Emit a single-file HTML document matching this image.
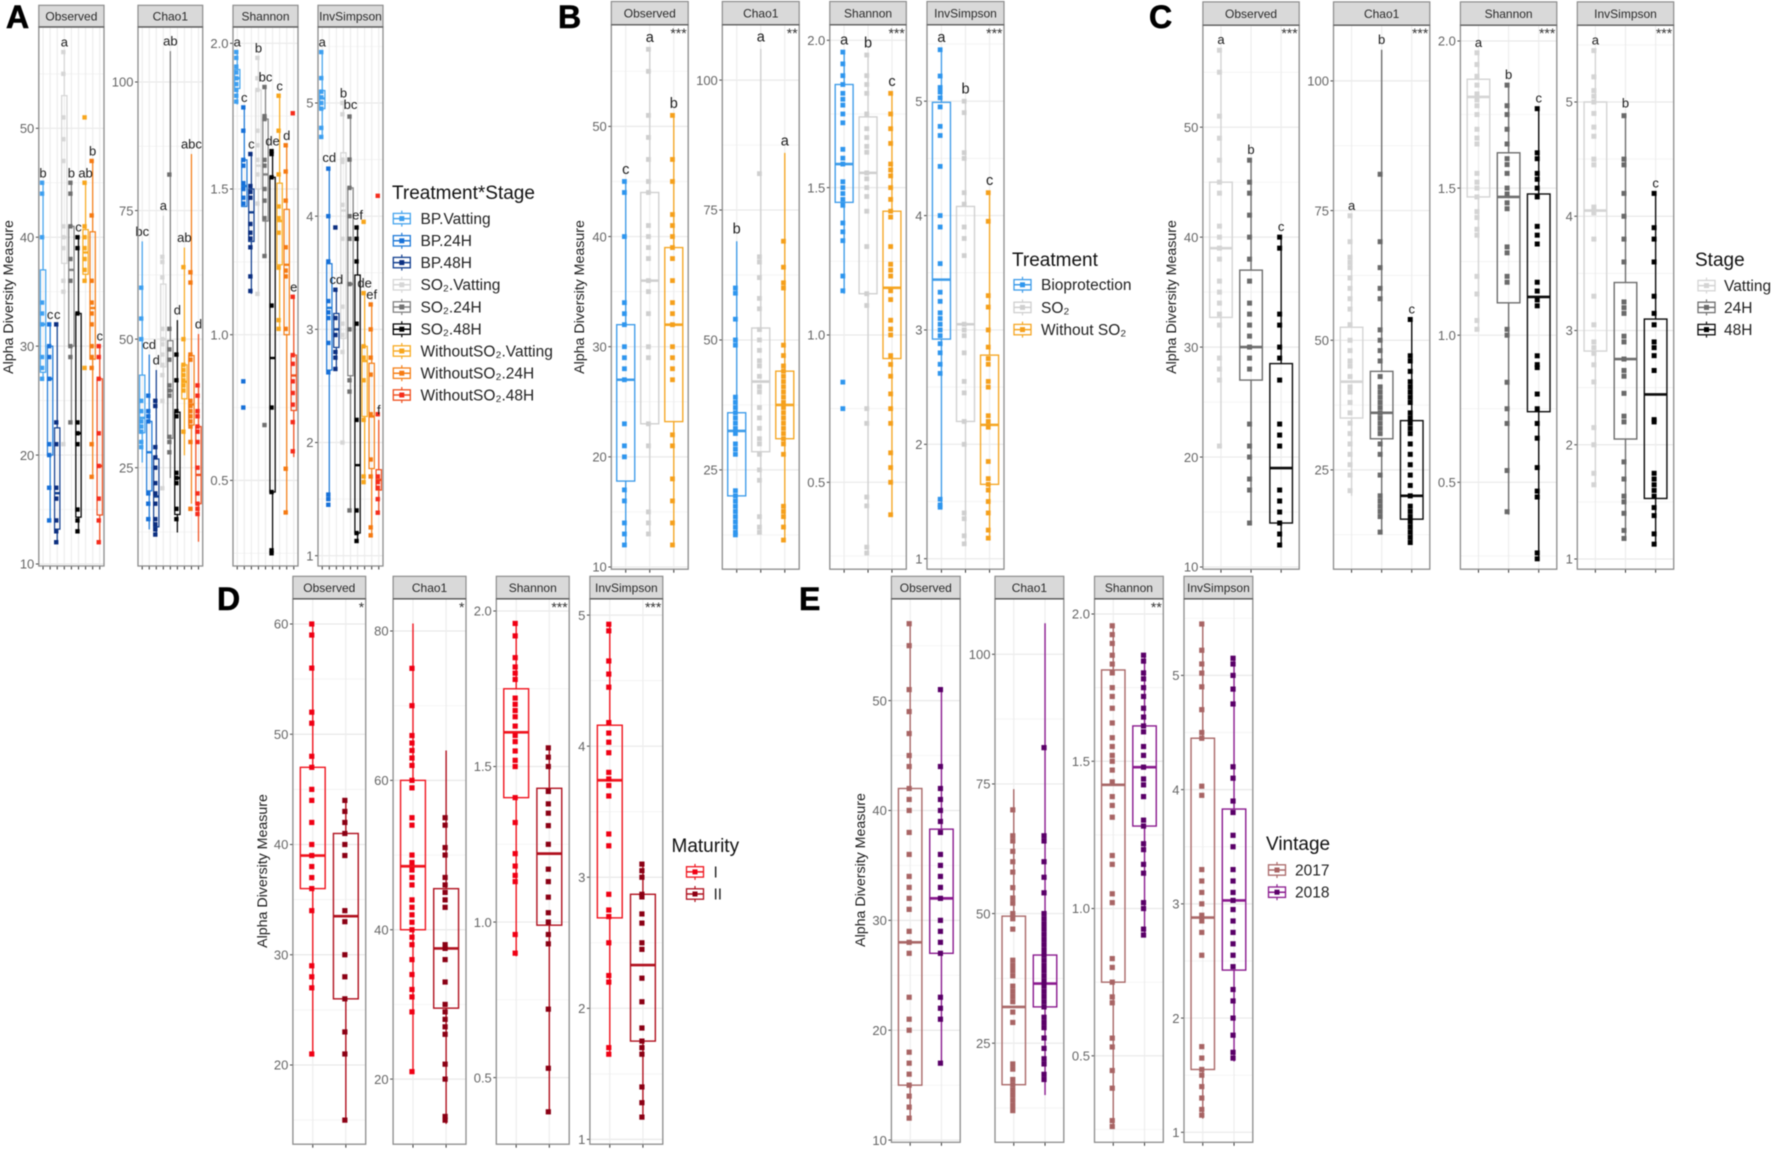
<!DOCTYPE html>
<html lang="en">
<head>
<meta charset="utf-8">
<title>Alpha diversity boxplots</title>
<style>
html,body{margin:0;padding:0;background:#fff;}
svg{display:block;filter:blur(0.55px);font-family:"Liberation Sans","DejaVu Sans",sans-serif;}
.letter{font-weight:bold;font-size:32px;fill:#000;stroke:#000;stroke-width:0.6px;}
.ytitle{font-size:14.2px;fill:#1a1a1a;text-anchor:middle;}
.ltitle{font-size:19px;fill:#111;}
.llabel{font-size:15.5px;fill:#222;}
</style>
</head>
<body>
<svg id="chart" xmlns="http://www.w3.org/2000/svg" width="1772" height="1150" viewBox="0 0 1772 1150">
<rect x="0" y="0" width="1772" height="1150" fill="#fff"/>
<g id="marks"></g>

<text class="letter" x="6" y="28">A</text>
<text class="letter" x="558" y="28">B</text>
<text class="letter" x="1149" y="28">C</text>
<text class="letter" x="217" y="610">D</text>
<text class="letter" x="799" y="610">E</text>

<text class="ytitle" transform="translate(13,297) rotate(-90)">Alpha Diversity Measure</text>
<text class="ytitle" transform="translate(584,297) rotate(-90)">Alpha Diversity Measure</text>
<text class="ytitle" transform="translate(1176,297) rotate(-90)">Alpha Diversity Measure</text>
<text class="ytitle" transform="translate(267,871) rotate(-90)">Alpha Diversity Measure</text>
<text class="ytitle" transform="translate(865,870) rotate(-90)">Alpha Diversity Measure</text>

<g>
<text class="ltitle" x="392" y="199">Treatment*Stage</text>
<text class="llabel" x="420.5" y="224">BP.Vatting</text>
<text class="llabel" x="420.5" y="246">BP.24H</text>
<text class="llabel" x="420.5" y="268">BP.48H</text>
<text class="llabel" x="420.5" y="290">SO₂.Vatting</text>
<text class="llabel" x="420.5" y="312.5">SO₂.24H</text>
<text class="llabel" x="420.5" y="334.5">SO₂.48H</text>
<text class="llabel" x="420.5" y="356.5">WithoutSO₂.Vatting</text>
<text class="llabel" x="420.5" y="378.5">WithoutSO₂.24H</text>
<text class="llabel" x="420.5" y="400.5">WithoutSO₂.48H</text>
</g>
<g>
<text class="ltitle" x="1012" y="266">Treatment</text>
<text class="llabel" x="1041" y="290">Bioprotection</text>
<text class="llabel" x="1041" y="313">SO₂</text>
<text class="llabel" x="1041" y="335">Without SO₂</text>
</g>
<g>
<text class="ltitle" x="1695" y="266">Stage</text>
<text class="llabel" x="1724" y="291">Vatting</text>
<text class="llabel" x="1724" y="313">24H</text>
<text class="llabel" x="1724" y="335">48H</text>
</g>
<g>
<text class="ltitle" x="671.5" y="852">Maturity</text>
<text class="llabel" x="713.5" y="877.5">I</text>
<text class="llabel" x="713.5" y="899.5">II</text>
</g>
<g>
<text class="ltitle" x="1266" y="850">Vintage</text>
<text class="llabel" x="1295" y="875.5">2017</text>
<text class="llabel" x="1295" y="897.5">2018</text>
</g>
</svg>

<script>
/* ---------- shared labels and ticks ---------- */
const metricNames = ["Observed","Chao1","Shannon","InvSimpson"];
const observedTicks = [10,20,30,40,50];
const observedTickLabels = ["10","20","30","40","50"];
const chaoTicks = [25,50,75,100];
const chaoTickLabels = ["25","50","75","100"];
const shannonTicks = [0.5,1,1.5,2];
const shannonTickLabels = ["0.5","1.0","1.5","2.0"];
const invTicks = [1,2,3,4,5];
const invTickLabels = ["1","2","3","4","5"];
const dObservedTicks = [20,30,40,50,60];
const dObservedTickLabels = ["20","30","40","50","60"];
const dChaoTicks = [20,40,60,80];
const dChaoTickLabels = ["20","40","60","80"];

/* ---------- A: Treatment*Stage ---------- */
const aGroups = ["BP.Vatting","BP.24H","BP.48H","SO2.Vatting","SO2.24H","SO2.48H","WithoutSO2.Vatting","WithoutSO2.24H","WithoutSO2.48H"];
/* box rows: q1, median, q3, whisker low, whisker high */
const aObservedPoints = [[45,44,40,34,33,32,29,28,27],[32,30,29,27,21,20,17,14],[32,23,21,17,16,14,13,12],[57,55,51,49,47,41,40,39,36,35,21],[45,44,41,38,36,30,29,23],[40,39,33,23,22,21,15,14,13],[51,45,41,40,39,38,37,36,28],[47,42,36,34,33,32,30,29,28,21,18],[30,29,27,22,19,16,14,12]];
const aObservedBoxes = [[27.6,32,37,27,45],[20,27,30,14,32],[13.2,16.5,22.5,12,32],[37.6,40,53,21,57],[30,37,41,23,45],[14.3,22,33,13,40],[36.6,38.6,40.7,36,45],[28.8,33.5,40.5,18,47],[14.5,19,27,12,30]];
const aObservedLetters = ["b","c","c","a","b","c","ab","b","c"];
const aChaoPoints = [[60,54,50,38,36,34,33,32,30,29],[39,36,35,34,20,18,15],[38,37,29,27,25,22,20,18,15,14,13,12],[66,65,62,52,50,49,47,45,43,38,21],[82,52,48,46,41,40,39,31,30,28],[47,42,36,35,24,23,22,17,15],[64,50,45,44,43,42,41,40,32],[63,61,47,46,38,37,36,35,34,33,30,17],[41,39,36,35,33,32,30,25,20,18,17,16]];
const aChaoBoxes = [[31.8,34.7,43,26,69],[20.5,28,34,13,47],[13.5,19.4,26.7,12,44],[44.6,50,60.7,21,74],[30.7,40,49.7,23,106],[15.9,23,35.8,12.4,53.7],[38.4,41.7,45,27.4,67.8],[33.3,37.3,46.8,18,86],[18,23.6,33,10.6,51]];
const aChaoLetters = ["bc","cd","d","a","ab","d","ab","abc","d"];
const aShannonPoints = [[1.97,1.95,1.92,1.9,1.88,1.86,1.84,1.82,1.8],[1.78,1.7,1.6,1.58,1.52,1.5,1.47,1.45,0.84,0.75],[1.62,1.51,1.49,1.47,1.38,1.35,1.33,1.3,1.2,1.15],[1.95,1.88,1.84,1.7,1.65,1.6,1.55,1.45,1.14],[1.85,1.75,1.74,1.6,1.58,1.5,1.46,1.4,1.27,0.69],[1.63,1.62,1.54,1.1,0.75,0.46,0.26,0.25],[1.82,1.7,1.55,1.44,1.4,1.35,1.23,1.05,1.02],[1.65,1.56,1.46,1.3,1.22,1.2,1.02,0.54,0.39],[1.76,1.13,0.93,0.9,0.84,0.8,0.76,0.7,0.6]];
const aShannonBoxes = [[1.845,1.88,1.91,1.79,1.97],[1.44,1.51,1.6,1.44,1.78],[1.32,1.42,1.5,1.14,1.62],[1.5,1.58,1.84,1.14,1.95],[1.39,1.55,1.74,1.27,1.85],[0.46,0.92,1.54,0.25,1.63],[1.24,1.39,1.52,1.02,1.82],[1,1.24,1.43,0.39,1.65],[0.74,0.86,0.93,0.58,1.13]];
const aShannonLetters = ["a","c","c","b","bc","de","c","d","e"];
const aInvPoints = [[5.45,5.22,5.1,5.05,5,4.95,4.78,4.7],[4.42,4,3.6,3.25,3.15,3.1,2.88,2.62,1.54,1.5,1.45],[3.9,3.35,3.1,2.95,2.8,2.75,2.65],[5,4.9,4.5,4.48,4.1,3.8,3.2,3.05,2.95,2.8,2],[4.88,4.5,4.25,4,3.8,3.4,3,2.55,2.45,1.4],[3.9,3.8,3.6,3.05,2.2,1.4,1.2,1.13],[3.95,3.32,2.85,2.75,2.55,2.2,1.7,1.65],[3.22,3,2.75,2.6,2.25,1.85,1.7,1.25,1.18],[4.18,2.25,1.7,1.65,1.6,1.5,1.38]];
const aInvBoxes = [[4.95,5.04,5.11,4.7,5.45],[2.64,3.19,3.58,1.52,4.43],[2.84,3,3.14,2.64,3.35],[2.92,4.05,4.56,2,5],[2.59,3.4,4.25,1.39,4.9],[1.2,1.8,3.48,1.13,3.92],[2.23,2.72,2.85,1.67,3.32],[1.77,2.23,2.7,1.16,3.22],[1.58,1.67,1.76,1.39,2.2]];
const aInvLetters = ["a","cd","cd","b","bc","ef","de","ef","f"];
const aLineColors = ["#45a4ee","#1f7ad8","#123f8f","#d6d6d6","#808080","#000000","#f8ab22","#f57f17","#f0501f"];
const aPointColors = ["#3d9ff0","#1670d8","#0c2f80","#d6d6d6","#707070","#000000","#f8a61c","#f57a12","#f52c1c"];

/* ---------- B: Treatment ---------- */
const bObservedPoints = [[45,44,40,34,33,32,30,29,28,27,23,21,20,17,16,14,13,12],[57,55,51,49,47,45,44,41,40,39,38,36,35,33,30,29,23,21,15,14,13],[51,47,45,42,41,40,39,38,36,34,33,32,30,29,28,27,22,21,18,16,14,12]];
const bObservedBoxes = [[17.8,27,32,12,45],[23,36,44,13,57],[23.2,32,39,12,51]];
const bObservedLetters = ["c","a","b"];
const bChaoPoints = [[60,59,54,50,49,39,38,37,36,35,34,33,32,30,29,28,21,20,19,18,17,16,15,14,13,12.5],[82,66,65,62,58,56,52,50,48,46,45,43,41,40,37,35,33,31,30,28,25,23,16,14,13],[69,64,61,60,49,47,45,44,43,42,41,40,39,38,37,36,35,34,33,32,31,30,28,18,17,16,14,11.5]];
const bChaoBoxes = [[20,32.5,36,12.5,69],[28.5,42,52.3,13,106],[31,37.5,44,11.5,86]];
const bChaoLetters = ["b","a","a"];
const bShannonPoints = [[1.96,1.92,1.88,1.85,1.82,1.8,1.78,1.75,1.72,1.63,1.6,1.58,1.52,1.5,1.48,1.46,1.44,1.38,1.35,1.32,1.2,1.15,0.84,0.75],[1.95,1.88,1.85,1.82,1.75,1.7,1.67,1.64,1.62,1.55,1.53,1.5,1.47,1.42,1.3,1.14,1.1,0.75,0.7,0.45,0.42,0.28,0.26],[1.82,1.75,1.7,1.65,1.58,1.56,1.54,1.5,1.46,1.42,1.4,1.3,1.24,1.22,1.2,1.15,1.12,1.05,1.02,1,0.93,0.9,0.86,0.8,0.75,0.7,0.6,0.55,0.5,0.39]];
const bShannonBoxes = [[1.45,1.58,1.85,1.14,1.96],[1.14,1.55,1.74,0.26,1.95],[0.92,1.16,1.42,0.39,1.82]];
const bShannonLetters = ["a","b","c"];
const bInvPoints = [[5.45,5.22,5.12,5.08,5.03,4.95,4.78,4.7,4.43,4,3.9,3.58,3.33,3.25,3.15,3.1,3.05,3,2.95,2.88,2.8,2.7,2.62,1.52,1.47,1.45],[5,4.9,4.55,4.5,4.2,4.1,3.9,3.8,3.65,3.05,3,2.95,2.8,2.55,2.45,2.2,2,1.4,1.35,1.2,1.13],[4.2,3.95,3.3,3.2,3,2.85,2.75,2.7,2.55,2.5,2.25,2.2,2.15,1.85,1.7,1.65,1.6,1.5,1.4,1.25,1.18]];
const bInvBoxes = [[2.92,3.44,4.99,1.43,5.45],[2.2,3.05,4.08,1.12,5],[1.65,2.17,2.78,1.16,4.2]];
const bInvLetters = ["a","b","c"];
const bStars = ["***","**","***","***"];
const bLineColors = ["#3d9be9","#cfcfcf","#f5a623"];
const bPointColors = ["#2f96ee","#cfcfcf","#f5a01c"];

/* ---------- C: Stage ---------- */
const cObservedPoints = [[57,55,51,49,47,45,44,41,40,39,38,36,35,34,33,32,29,28,27,21],[47,45,44,42,40,38,36,34,33,32,31,30,29,28,23,21,20,18,17,14],[40,39,33,32,30,29,27,23,22,21,17,16,15,14,13,12]];
const cObservedBoxes = [[32.7,39,45,21,57],[27,30,37,14,47],[14,19,28.5,12,40]];
const cChaoPoints = [[74,69,66,65,64,62,60,58,56,53,50,48,46,45,43,41,40,38,36,34,32,30,28,26,24,21],[82,69,64,60,58,52,50,48,46,43,41,40,39,38,37,36,35,34,33,32,30,28,24,20,19,18,17,16,13],[54,47,46,44,42,41,40,39,38,36,35,34,33,32,30,28,26,24,22,20,18,17,16,15,14,13,12,11]];
const cChaoBoxes = [[35,42,52.5,20,74],[31,36,44,13,106],[15.5,20,34.5,11,54]];
const cShannonPoints = [[1.96,1.92,1.88,1.85,1.82,1.8,1.78,1.75,1.7,1.67,1.65,1.55,1.52,1.5,1.47,1.42,1.4,1.36,1.34,1.2,1.14,1.05,1.02],[1.85,1.78,1.75,1.7,1.65,1.6,1.58,1.55,1.5,1.48,1.45,1.43,1.3,1.28,1.2,1.18,1.02,1,0.84,0.75,0.7,0.54,0.4],[1.77,1.62,1.6,1.55,1.53,1.5,1.47,1.37,1.34,1.31,1.18,1.15,1.12,1.1,0.93,0.9,0.89,0.8,0.75,0.7,0.65,0.55,0.47,0.45,0.26,0.24]];
const cShannonBoxes = [[1.47,1.81,1.87,1.02,1.96],[1.11,1.47,1.62,0.39,1.85],[0.74,1.13,1.48,0.24,1.77]];
const cInvPoints = [[5.45,5.22,5.1,5.05,5,4.9,4.78,4.7,4.5,4.45,4.08,4.03,3.8,3.3,3.05,2.9,2.85,2.8,2.7,2.55,2.15,2,1.75,1.65],[4.88,4.5,4.45,4.2,4,3.8,3.6,3.25,3.2,3.15,2.95,2.9,2.75,2.65,2.6,2.45,2.25,2.2,1.85,1.7,1.55,1.5,1.4,1.25,1.18],[4.2,3.9,3.8,3.6,3.3,3.15,3.05,2.9,2.85,2.78,2.65,2.22,2.2,1.75,1.7,1.65,1.6,1.55,1.45,1.38,1.22,1.13]];
const cInvBoxes = [[2.82,4.05,5,1.63,5.45],[2.05,2.75,3.42,1.16,4.9],[1.53,2.44,3.1,1.12,4.2]];
const cLetters = ["a","b","c"];
const cStars = ["***","***","***","***"];
const cLineColors = ["#d4d4d4","#6e6e6e","#0a0a0a"];
const cPointColors = ["#d4d4d4","#6a6a6a","#000000"];

/* ---------- D: Maturity ---------- */
const dObservedPoints = [[60,59,56,52,51,48,47,45,44,42,40,39,38,37,36,34,29,28,27,21],[44,43,42,41,40,39,34,33,30,28,26,23,21,15]];
const dObservedBoxes = [[36,39,47,21,60],[26,33.5,41,15,44]];
const dChaoPoints = [[75,70,66,65,64,63,62,60,59,55,54,50,49,48,47,46,44,43,42,41,40,39,38,36,34,32,31,29,21],[55,54,51,50,47,46,45,44,43,38,37.5,36,33,30,29,28,27,26,22,20,15,14.5]];
const dChaoBoxes = [[40,48.5,60,21,81],[29.5,37.5,45.5,14,64]];
const dShannonPoints = [[1.96,1.92,1.85,1.82,1.8,1.78,1.72,1.7,1.68,1.66,1.63,1.6,1.58,1.55,1.52,1.5,1.4,1.32,1.22,1.18,1.15,1.13,0.96,0.9],[1.56,1.53,1.5,1.42,1.38,1.35,1.31,1.25,1.17,1.13,1.08,1.03,1,0.96,0.93,0.72,0.53,0.39]];
const dShannonBoxes = [[1.4,1.61,1.75,0.89,1.96],[0.99,1.22,1.43,0.39,1.56]];
const dInvPoints = [[4.93,4.88,4.65,4.55,4.45,4.18,4.1,4.03,3.95,3.8,3.75,3.7,3.62,3.33,3.24,2.87,2.75,2.7,2.5,2.25,2.2,1.7,1.65],[3.1,3.05,3,2.87,2.85,2.72,2.65,2.5,2.45,2.23,2.05,1.85,1.75,1.7,1.65,1.4,1.28,1.17]];
const dInvBoxes = [[2.69,3.74,4.16,1.65,4.93],[1.75,2.33,2.87,1.17,3.1]];
const dStars = ["*","*","***","***"];
const dLineColors = ["#f0141e","#b0101e"];
const dPointColors = ["#f00014","#8b0014"];

/* ---------- E: Vintage ---------- */
const eObservedPoints = [[57,55,51,49,47,45,44,42,41,40,38,36,34,33,32,31,29,28,27,23,21,20,18,17,16,15,14,13,12],[51,44,42,41,40,39,38,36,35,34,33,32,30,29,28,27,23,22,21,17]];
const eObservedBoxes = [[15,28,42,12,57],[27,32,38.3,17,51]];
const eChaoPoints = [[70,65,64,62,60,58,55,53,52,50,49,47,41,40,39,38,36,35,34,33,31,29,21,20,18,17,16,15,14,13,12],[82,65,64,60,57,54,50,49,48,47,46,45,44,43,42,41,40,39,38,37,36,35,34,33,32,30,29,28,26,24,22,21,19,18]];
const eChaoBoxes = [[17,32,49.5,12,74],[32,36.5,42,15,106]];
const eShannonPoints = [[1.96,1.93,1.9,1.86,1.83,1.8,1.75,1.72,1.68,1.63,1.58,1.55,1.52,1.5,1.47,1.43,1.38,1.35,1.31,1.18,1.15,1.05,1.02,0.83,0.8,0.75,0.7,0.68,0.56,0.53,0.45,0.39,0.28,0.26],[1.86,1.84,1.8,1.78,1.75,1.72,1.68,1.65,1.62,1.6,1.55,1.52,1.48,1.44,1.42,1.38,1.3,1.28,1.22,1.2,1.15,1.12,1.02,1,0.93,0.91]];
const eShannonBoxes = [[0.75,1.42,1.81,0.26,1.96],[1.28,1.48,1.62,0.91,1.86]];
const eInvPoints = [[5.45,5.22,5.1,5.02,4.9,4.7,4.5,4.45,4.03,3.95,3.3,3.2,3.1,3,2.9,2.85,2.75,2.55,1.75,1.65,1.55,1.5,1.4,1.3,1.2,1.15],[5.15,5.1,5,4.88,4.75,4.2,4.1,3.9,3.8,3.6,3.5,3.3,3.2,3.1,3.03,2.95,2.85,2.75,2.65,2.55,2.45,2.25,2.15,2,1.85,1.7,1.65]];
const eInvBoxes = [[1.55,2.88,4.45,1.12,5.45],[2.42,3.03,3.83,1.62,5.15]];
const eStars = ["","","**",""];
const eLineColors = ["#a96868","#8a1a8e"];
const ePointColors = ["#a86464","#5a0068"];

/* ---------- layout (pixels only, no data) ---------- */
const SVGNS = "http://www.w3.org/2000/svg";
const root = document.getElementById("marks");

function mk(tag, attrs, parent) {
  const el = document.createElementNS(SVGNS, tag);
  for (const k in attrs) el.setAttribute(k, attrs[k]);
  parent.appendChild(el);
  return el;
}
function yAxis(p) {
  const k = (p.py2 - p.py1) / (p.v2 - p.v1);
  return function (v) { return p.py1 + (v - p.v1) * k; };
}
function xAxis(p, n) {
  const step = (p.x1 - p.x0) / (n - 1 + 1.2);
  return function (i) { return p.x0 + (i + 0.6) * step; };
}

function drawPanel(fig, p, m) {
  const g = mk("g", {}, root);
  
  
  const y = yAxis(p);
  const n = m.points.length;
  const x = xAxis(p, n);
  const step = (p.x1 - p.x0) / (n + 0.2);
  const boxW = step * 0.75;

  const strip = mk("rect", {x:p.x0, y:fig.stripTop, width:p.x1-p.x0, height:fig.stripBottom-fig.stripTop, fill:"#d9d9d9", stroke:"#8c8c8c", "stroke-width":1.2}, g);
  
  
  const stripText = mk("text", {x:(p.x0+p.x1)/2, y:(fig.stripTop+fig.stripBottom)/2+4.2, "text-anchor":"middle", "font-size":12, fill:"#2a2a2a"}, g);
  stripText.textContent = m.title;
  
  

  const bg = mk("rect", {x:p.x0, y:fig.stripBottom, width:p.x1-p.x0, height:fig.bottom-fig.stripBottom, fill:"#fff"}, g);
  
  

  /* minor grid */
  const tickStep = m.ticks[1] - m.ticks[0];
  for (let v = m.ticks[0] - tickStep / 2; v <= m.ticks[m.ticks.length - 1] + tickStep; v += tickStep) {
    const yy = y(v);
    if (yy > fig.stripBottom && yy < fig.bottom) {
      const minor = mk("line", {x1:p.x0, x2:p.x1, y1:yy, y2:yy, stroke:"#f0f0f0", "stroke-width":0.7}, g);
      
      
    }
  }
  /* major grid and y axis */
  m.ticks.forEach(function (t, i) {
    const yy = y(t);
    const major = mk("line", {x1:p.x0, x2:p.x1, y1:yy, y2:yy, stroke:"#e9e9e9", "stroke-width":1.2}, g);
    
    
    const tick = mk("line", {x1:p.x0-3, x2:p.x0, y1:yy, y2:yy, stroke:"#444", "stroke-width":1}, g);
    
    
    const lab = mk("text", {x:p.x0-4.5, y:yy+4.7, "text-anchor":"end", "font-size":13, fill:"#666"}, g);
    lab.textContent = m.tickLabels[i];
    
    
  });
  for (let i = 0; i < n; i++) {
    const xx = x(i);
    const vg = mk("line", {x1:xx, x2:xx, y1:fig.stripBottom, y2:fig.bottom, stroke:"#ececec", "stroke-width":1.1}, g);
    
    
    const xt = mk("line", {x1:xx, x2:xx, y1:fig.bottom, y2:fig.bottom+3.5, stroke:"#333", "stroke-width":1}, g);
    
    
  }
  /* boxes */
  for (let i = 0; i < n; i++) {
    const col = fig.lineColors[i];
    const b = m.boxes[i];
    const xx = x(i);
    const upper = mk("line", {x1:xx, x2:xx, y1:y(b[4]), y2:y(b[2]), stroke:col, "stroke-width":fig.lw}, g);
    
    
    const lower = mk("line", {x1:xx, x2:xx, y1:y(b[0]), y2:y(b[3]), stroke:col, "stroke-width":fig.lw}, g);
    
    
    const box = mk("rect", {x:xx-boxW/2, y:y(b[2]), width:boxW, height:y(b[0])-y(b[2]), fill:"none", stroke:col, "stroke-width":fig.lw}, g);
    
    
    const med = mk("line", {x1:xx-boxW/2, x2:xx+boxW/2, y1:y(b[1]), y2:y(b[1]), stroke:col, "stroke-width":fig.lw*1.9}, g);
    
    
  }
  /* points */
  for (let i = 0; i < n; i++) {
    const xx = x(i) + fig.pointShift;
    m.points[i].forEach(function (v) {
      const s = fig.pointSize;
      const pt = mk("rect", {x:xx-s/2, y:y(v)-s/2, width:s, height:s, fill:fig.pointColors[i]}, g);
      
      
    });
  }
  /* letters */
  if (m.letters) {
    m.letters.forEach(function (l, i) {
      const t = mk("text", {x:x(i), y:y(m.boxes[i][4])-fig.letterGap, "text-anchor":"middle", "font-size":fig.letterSize, fill:"#1a1a1a"}, g);
      t.textContent = l;
      
      
    });
  }
  if (m.stars) {
    const st = mk("text", {x:p.x1-1.5, y:fig.stripBottom+13, "text-anchor":"end", "font-size":14, fill:"#333"}, g);
    st.textContent = m.stars;
    
    
  }
  const border = mk("rect", {x:p.x0, y:fig.stripBottom, width:p.x1-p.x0, height:fig.bottom-fig.stripBottom, fill:"none", stroke:"#8c8c8c", "stroke-width":1.3}, g);
  
  
  const stripEdge = mk("line", {x1:p.x0, x2:p.x1, y1:fig.stripBottom, y2:fig.stripBottom, stroke:"#555", "stroke-width":1.2}, g);
  
  
}

function drawKey(cx, cy, col, ptCol) {
  const k = mk("g", {}, root);
  
  
  const stem = mk("line", {x1:cx, x2:cx, y1:cy-8, y2:cy+8, stroke:col, "stroke-width":1.2}, k);
  
  
  const r = mk("rect", {x:cx-8.5, y:cy-5.2, width:17, height:10.4, fill:"#fff", stroke:col, "stroke-width":1.3}, k);
  
  
  const ml = mk("line", {x1:cx-8.5, x2:cx+8.5, y1:cy, y2:cy, stroke:col, "stroke-width":1.5}, k);
  
  
  const d = mk("rect", {x:cx-2.5, y:cy-2.5, width:5, height:5, fill:ptCol}, k);
  
  
}

const stdTicks = [observedTicks, chaoTicks, shannonTicks, invTicks];
const stdLabels = [observedTickLabels, chaoTickLabels, shannonTickLabels, invTickLabels];
const dTicks = [dObservedTicks, dChaoTicks, shannonTicks, invTicks];
const dLabels = [dObservedTickLabels, dChaoTickLabels, shannonTickLabels, invTickLabels];

const figures = [
  {id:"a", stripTop:5.3, stripBottom:27, bottom:566, lw:1.25, pointSize:4.4, pointShift:-1, letterSize:13, letterGap:5.5,
   lineColors:aLineColors, pointColors:aPointColors, groupNames:aGroups, ticks:stdTicks, labels:stdLabels,
   points:[aObservedPoints,aChaoPoints,aShannonPoints,aInvPoints], boxes:[aObservedBoxes,aChaoBoxes,aShannonBoxes,aInvBoxes],
   letters:[aObservedLetters,aChaoLetters,aShannonLetters,aInvLetters], stars:null,
   panels:[{x0:38.8,x1:104,v1:10,py1:564,v2:50,py2:128.3},{x0:138,x1:202.7,v1:25,py1:467.7,v2:100,py2:82},{x0:233,x1:298,v1:0.5,py1:480.4,v2:2,py2:43.3},{x0:318,x1:383,v1:1,py1:555.7,v2:5,py2:103}],
   keyX:401.8, keyY:[218.6,240.8,262.6,284.8,307,329.2,351,373.2,395]},
  {id:"b", stripTop:1.5, stripBottom:24.8, bottom:569.2, lw:1.35, pointSize:4.8, pointShift:-1.3, letterSize:14.5, letterGap:7.5,
   lineColors:bLineColors, pointColors:bPointColors, groupNames:["bioprotection","so2","without-so2"], ticks:stdTicks, labels:stdLabels,
   points:[bObservedPoints,bChaoPoints,bShannonPoints,bInvPoints], boxes:[bObservedBoxes,bChaoBoxes,bShannonBoxes,bInvBoxes],
   letters:[bObservedLetters,bChaoLetters,bShannonLetters,bInvLetters], stars:bStars,
   panels:[{x0:611.3,x1:688.2,v1:10,py1:567,v2:50,py2:126.4},{x0:722.3,x1:799.2,v1:25,py1:469.9,v2:100,py2:80.1},{x0:829.8,x1:906.3,v1:0.5,py1:482.3,v2:2,py2:40.3},{x0:927,x1:1004,v1:1,py1:558.7,v2:5,py2:101.2}],
   keyX:1022.5, keyY:[284.8,307.4,329.6]},
  {id:"c", stripTop:1.9, stripBottom:25.2, bottom:569.2, lw:1.4, pointSize:5, pointShift:-1.5, letterSize:13, letterGap:6,
   lineColors:cLineColors, pointColors:cPointColors, groupNames:["vatting","24h","48h"], ticks:stdTicks, labels:stdLabels,
   points:[cObservedPoints,cChaoPoints,cShannonPoints,cInvPoints], boxes:[cObservedBoxes,cChaoBoxes,cShannonBoxes,cInvBoxes],
   letters:[cLetters,cLetters,cLetters,cLetters], stars:cStars,
   panels:[{x0:1202.9,x1:1299.2,v1:10,py1:567,v2:50,py2:127.2},{x0:1333.5,x1:1429.8,v1:25,py1:469.9,v2:100,py2:80.9},{x0:1460.4,x1:1556.8,v1:0.5,py1:482.3,v2:2,py2:41},{x0:1577.3,x1:1673.7,v1:1,py1:559,v2:5,py2:102}],
   keyX:1706.5, keyY:[285.6,307.4,329.6]},
  {id:"d", stripTop:576.3, stripBottom:598.9, bottom:1144.2, lw:1.4, pointSize:5.2, pointShift:-1, letterSize:12, letterGap:6,
   lineColors:dLineColors, pointColors:dPointColors, groupNames:["maturity-i","maturity-ii"], ticks:dTicks, labels:dLabels,
   points:[dObservedPoints,dChaoPoints,dShannonPoints,dInvPoints], boxes:[dObservedBoxes,dChaoBoxes,dShannonBoxes,dInvBoxes],
   letters:[null,null,null,null], stars:dStars,
   panels:[{x0:292.9,x1:365.7,v1:20,py1:1065,v2:60,py2:624},{x0:393.1,x1:466,v1:20,py1:1079.1,v2:80,py2:631},{x0:496.3,x1:569.2,v1:0.5,py1:1077.6,v2:2,py2:611},{x0:589.9,x1:662.8,v1:1,py1:1139.4,v2:5,py2:615.1}],
   keyX:695, keyY:[871.9,894]},
  {id:"e", stripTop:576.3, stripBottom:598.9, bottom:1142.3, lw:1.4, pointSize:5.2, pointShift:-1, letterSize:12, letterGap:6,
   lineColors:eLineColors, pointColors:ePointColors, groupNames:["vintage-2017","vintage-2018"], ticks:stdTicks, labels:stdLabels,
   points:[eObservedPoints,eChaoPoints,eShannonPoints,eInvPoints], boxes:[eObservedBoxes,eChaoBoxes,eShannonBoxes,eInvBoxes],
   letters:[null,null,null,null], stars:eStars,
   panels:[{x0:891.4,x1:960.2,v1:10,py1:1140.1,v2:50,py2:700.6},{x0:995,x1:1063.8,v1:25,py1:1043.2,v2:100,py2:654.3},{x0:1094.5,x1:1163.3,v1:0.5,py1:1055.8,v2:2,py2:614},{x0:1184,x1:1252.8,v1:1,py1:1132.3,v2:5,py2:675.4}],
   keyX:1277, keyY:[870,892.2]}
];

figures.forEach(function (fig) {
  fig.panels.forEach(function (p, i) {
    drawPanel(fig, p, {
      title: metricNames[i],
      ticks: fig.ticks[i],
      tickLabels: fig.labels[i],
      points: fig.points[i],
      boxes: fig.boxes[i],
      letters: fig.letters[i],
      stars: fig.stars ? fig.stars[i] : ""
    });
  });
  fig.keyY.forEach(function (ky, i) {
    drawKey(fig.keyX, ky, fig.lineColors[i], fig.pointColors[i]);
  });
});
</script>
</body>
</html>
